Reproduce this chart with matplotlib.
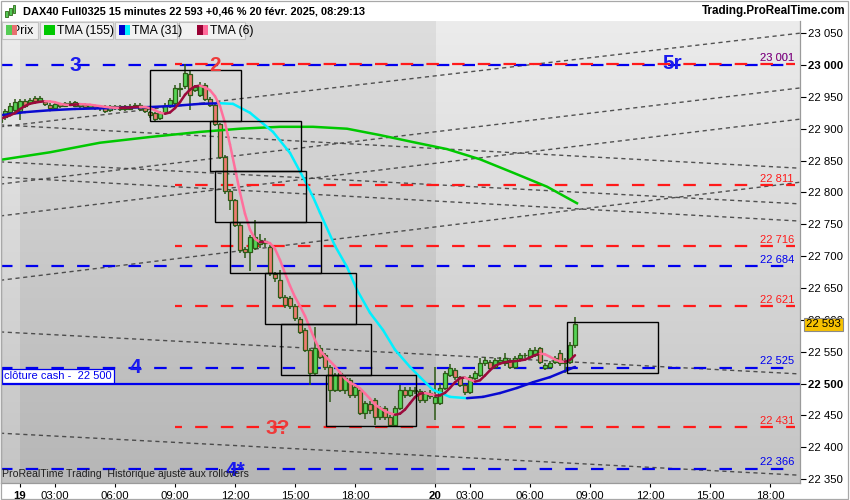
import numpy as np
import pandas as pd
import matplotlib
matplotlib.use('Agg')
import matplotlib.pyplot as plt
from matplotlib.collections import LineCollection
from matplotlib.patches import Rectangle
import matplotlib.transforms as mtransforms

plt.rcParams['font.family'] = ['Liberation Sans', 'DejaVu Sans']
plt.rcParams['lines.scale_dashes'] = False

# 15 min bars, bar 0 = 19 feb 01:15 (DAX40 Full0325)
bars = np.arange(-4, 112)
opens = [22910, 22918, 22926, 22929, 22928, 22943, 22940, 22948, 22943, 22942,
         22938, 22933, 22939, 22936, 22938, 22942, 22935, 22938, 22934, 22936,
         22932, 22936, 22930, 22936, 22931, 22935, 22931, 22934, 22937, 22932,
         22926, 22925, 22917, 22926, 22936, 22940, 22962, 22967, 22986, 22961,
         22953, 22969, 22947, 22937, 22907, 22856, 22802, 22788, 22749, 22711,
         22707, 22713, 22719, 22724, 22714, 22672, 22662, 22636, 22634, 22622,
         22601, 22584, 22553, 22516, 22556, 22545, 22526, 22490, 22516, 22490,
         22505, 22482, 22490, 22454, 22468, 22474, 22447, 22462, 22447, 22435,
         22462, 22490, 22482, 22490, 22488, 22474, 22485, 22470, 22469, 22493,
         22513, 22521, 22510, 22498, 22487, 22509, 22513, 22532, 22534, 22526,
         22533, 22532, 22537, 22526, 22540, 22544, 22542, 22545, 22555, 22524,
         22526, 22534, 22548, 22532, 22534, 22560]
highs = [22918, 22931, 22940, 22946, 22947, 22946, 22948, 22951, 22952, 22944,
         22940, 22941, 22941, 22942, 22944, 22944, 22941, 22940, 22939, 22938,
         22937, 22938, 22938, 22938, 22938, 22937, 22939, 22941, 22940, 22934,
         22928, 22927, 22928, 22940, 22948, 22968, 22972, 23001, 22990, 22968,
         22974, 22972, 22950, 22940, 22909, 22858, 22805, 22790, 22752, 22714,
         22733, 22757, 22735, 22728, 22718, 22675, 22678, 22639, 22637, 22625,
         22604, 22587, 22556, 22589, 22560, 22548, 22529, 22517, 22519, 22512,
         22508, 22497, 22493, 22472, 22472, 22478, 22465, 22465, 22450, 22465,
         22498, 22494, 22494, 22494, 22492, 22488, 22490, 22526, 22500, 22520,
         22530, 22524, 22512, 22500, 22513, 22520, 22540, 22541, 22537, 22540,
         22541, 22548, 22540, 22543, 22548, 22548, 22556, 22558, 22558, 22532,
         22535, 22543, 22552, 22540, 22565, 22605]
lows = [22905, 22914, 22922, 22926, 22914, 22932, 22937, 22941, 22940, 22936,
        22930, 22931, 22933, 22934, 22936, 22934, 22933, 22932, 22931, 22929,
        22928, 22924, 22927, 22929, 22928, 22928, 22929, 22932, 22928, 22925,
        22917, 22912, 22913, 22924, 22933, 22936, 22950, 22962, 22929, 22957,
        22950, 22944, 22934, 22904, 22852, 22798, 22772, 22745, 22705, 22697,
        22676, 22710, 22712, 22714, 22669, 22660, 22632, 22618, 22617, 22598,
        22577, 22549, 22498, 22512, 22538, 22521, 22471, 22486, 22486, 22484,
        22477, 22478, 22450, 22445, 22452, 22435, 22443, 22442, 22431, 22431,
        22458, 22478, 22479, 22484, 22470, 22470, 22476, 22443, 22466, 22490,
        22510, 22505, 22494, 22482, 22484, 22505, 22510, 22528, 22520, 22522,
        22530, 22528, 22522, 22523, 22537, 22540, 22540, 22542, 22530, 22521,
        22522, 22530, 22528, 22516, 22530, 22556]
closes = [22915, 22928, 22936, 22942, 22943, 22936, 22945, 22944, 22948, 22939,
          22933, 22939, 22935, 22940, 22941, 22936, 22939, 22934, 22937, 22932,
          22935, 22928, 22936, 22932, 22935, 22931, 22936, 22938, 22931, 22928,
          22921, 22915, 22925, 22936, 22945, 22964, 22964, 22987, 22953, 22965,
          22969, 22947, 22937, 22907, 22856, 22802, 22788, 22749, 22710, 22706,
          22730, 22730, 22725, 22720, 22673, 22666, 22636, 22623, 22622, 22603,
          22581, 22553, 22516, 22556, 22542, 22526, 22490, 22513, 22490, 22509,
          22482, 22494, 22454, 22469, 22458, 22447, 22462, 22447, 22435, 22462,
          22490, 22482, 22490, 22488, 22474, 22485, 22480, 22479, 22493, 22516,
          22524, 22510, 22498, 22487, 22510, 22516, 22532, 22537, 22524, 22537,
          22537, 22540, 22526, 22540, 22545, 22545, 22553, 22553, 22534, 22529,
          22532, 22540, 22532, 22537, 22560, 22593]

# TMA(155) and TMA(31) (bar, price)
tma155_bar = [-4, 6, 16, 26, 36, 44, 52, 58.6, 65.4, 72, 78.6, 85.4, 92, 98.6, 105.4, 111.4]
tma155_val = [22851, 22863, 22878, 22887, 22895, 22900, 22903, 22903, 22900, 22890,
              22879, 22868, 22852, 22831, 22809, 22783]
tma31_bar = [-4, 1, 6, 11, 16, 21, 26, 31, 36, 40, 42.6, 46, 48, 50.6, 54, 56.6, 58.6,
             60, 63, 65.4, 67.4, 70, 72.6, 75, 78, 80, 82.6, 86, 89.4, 92.6, 96, 99.4,
             102.6, 106, 109.4, 111]
tma31_val = [22921, 22926, 22929, 22931, 22932, 22933, 22934, 22936, 22939, 22940,
             22939, 22925, 22912, 22895, 22862, 22824, 22793, 22768, 22716, 22683,
             22647, 22611, 22584, 22553, 22526, 22510, 22490, 22479, 22477, 22479,
             22485, 22493, 22502, 22510, 22521, 22526]

red_levels = [23001, 22811, 22716, 22621, 22431]
blue_levels = [23000, 22684, 22525, 22366]
cash_close = 22500

# dotted trend lines, from bar -4 to bar 156
trend_start = [22903, 22813, 22763, 22906, 22662, 22848, 22824, 22581, 22422]
trend_end = [23050, 22964, 22915, 22838, 22816, 22782, 22755, 22515, 22356]

# boxes
box_left = [26, 38, 39, 42, 49, 52.2, 61.2, 109.4]
box_right = [44.1, 56.2, 57.2, 60.2, 67.2, 70.2, 79.2, 127.6]
box_top = [22992, 22912, 22834, 22754, 22673, 22593, 22513, 22597]
box_bottom = [22912, 22834, 22754, 22673, 22593, 22513, 22433, 22516]

ann_text = ['3', '2', '5r', '4', '3?', '4*']
ann_bar = [11, 39, 130.4, 23, 51.6, 43]
ann_price = [23000, 23000, 23003, 22525, 22429, 22364]
ann_color = ['#1a1aee', '#ee3a3a', '#1a1aee', '#1a1aee', '#ee3a3a', '#1a1aee']

tick_bars = [0, 7, 19, 31, 43, 55, 67, 83, 90, 102, 114, 126, 138, 150]
tick_labels = ['19', '03:00', '06:00', '09:00', '12:00', '15:00', '18:00',
               '20', '03:00', '06:00', '09:00', '12:00', '15:00', '18:00']
day_start = [0, 83.2]

last_price = 22593

BLUE = '#0000ee'
RED = '#ff1a1a'


def fmt(v):
    return f'{v:,}'.replace(',', ' ')


def px(x, y):
    return x / 850, 1 - y / 500


fig = plt.figure(figsize=(8.5, 5), dpi=100)
ax = fig.add_axes([1 / 850, 17 / 500, 799 / 850, 462 / 500])
x0, x1 = -3.8, 156
y0, y1 = 22343.8, 23069.1

# background: vertical gradient, 19 feb slightly darker
g = np.linspace(0, 1, 200)[:, None]
def shade(top, bot):
    v = (top + (bot - top) * g) / 255.0
    return np.repeat(v[:, :, None], 3, axis=2)

ax.imshow(shade(236, 196), extent=[x0, day_start[0], y0, y1], aspect='auto', zorder=0)
ax.imshow(shade(222, 182), extent=[day_start[0], day_start[1], y0, y1], aspect='auto', zorder=0)
ax.imshow(shade(236, 196), extent=[day_start[1], x1, y0, y1], aspect='auto', zorder=0)

# trend lines
for a, b in zip(trend_start, trend_end):
    ax.plot([-4, 156], [a, b], color='#383838', lw=1.0, ls=(0, (3.0, 2.6)), alpha=0.85, zorder=1)

# levels
ax.hlines(blue_levels, -4, 155, colors=BLUE, lw=1.6, linestyles=[(0, (9, 9.5))], zorder=2)
ax.hlines(red_levels, 31, 155, colors=RED, lw=1.6, linestyles=[(4, (9, 9.5))], zorder=2)
ax.axhline(cash_close, color=BLUE, lw=1.6, zorder=2)

for lv in red_levels[1:]:
    ax.annotate(fmt(lv), (154.8, lv), xytext=(0, 1), textcoords='offset points',
                ha='right', va='bottom', color=RED, fontsize=8, zorder=7)
for lv in blue_levels[1:]:
    ax.annotate(fmt(lv), (154.8, lv), xytext=(0, 1), textcoords='offset points',
                ha='right', va='bottom', color=BLUE, fontsize=8, zorder=7)
ax.annotate(fmt(red_levels[0]), (154.8, red_levels[0]), xytext=(0, 1), textcoords='offset points',
            ha='right', va='bottom', color=BLUE, fontsize=8, zorder=7)
ax.annotate(fmt(red_levels[0]), (154.8, red_levels[0]), xytext=(0, 1), textcoords='offset points',
            ha='right', va='bottom', color=RED, alpha=0.6, fontsize=8, zorder=7)

ax.annotate('clôture cash -  ' + fmt(cash_close), (x0, cash_close), xytext=(2, 1.8),
            textcoords='offset points', ha='left', va='bottom', color=BLUE, fontsize=8, zorder=8,
            bbox=dict(boxstyle='square,pad=0.2', fc='white', ec=BLUE, lw=0.9))

# candles
o = np.array(opens)
c = np.array(closes)
up = c >= o
lo = np.minimum(o, c)
hgt = np.maximum(np.abs(c - o), 1.2)
ax.vlines(bars, lows, highs, color='#2d5a16', lw=1.1, zorder=3)
ax.bar(bars, hgt, bottom=lo, width=0.74, color=np.where(up, '#55d455', '#ee7b70'),
       edgecolor='#2d5a16', linewidth=0.9, zorder=3.5)

# moving averages
def colored_line(xs, ys, c_up, c_down, lw):
    xs = np.asarray(xs, float)
    ys = np.asarray(ys, float)
    pts = np.column_stack([xs, ys])
    segs = np.stack([pts[:-1], pts[1:]], axis=1)
    cols = np.where(np.diff(ys) >= 0, c_up, c_down)
    ax.add_collection(LineCollection(segs, colors=cols, linewidths=lw, capstyle='round', zorder=4))

ax.plot(tma155_bar, tma155_val, color='#00c800', lw=1.8, zorder=4)
colored_line(tma31_bar, tma31_val, '#0a0ad0', '#00f0ff', 1.8)
cs = pd.Series(closes, dtype=float)
tma6 = cs.rolling(3, min_periods=1).mean().rolling(4, min_periods=1).mean()
colored_line(bars, tma6.values, '#9b0a3c', '#ff6f9c', 1.8)

# boxes
for l, r, t, b in zip(box_left, box_right, box_top, box_bottom):
    ax.add_patch(Rectangle((l, b), r - l, t - b, fill=False, ec='black', lw=1.0, zorder=5))

# hand written labels
for t, xb, yp, col in zip(ann_text, ann_bar, ann_price, ann_color):
    ax.text(xb, yp, t, color=col, fontsize=15, fontweight='bold', ha='center', va='center', zorder=6)

ax.text(x0 + 0.3, 22344.5 + 6, 'ProRealTime Trading  Historique ajusté aux rollovers',
        fontsize=7.6, color='#202020', ha='left', va='bottom', zorder=9)

ax.set_xlim(x0, x1)
ax.set_ylim(y0, y1)

# axes
yt = list(range(22350, 23051, 50))
ax.set_yticks(yt)
ax.set_yticklabels([fmt(v) for v in yt])
ax.yaxis.tick_right()
ax.tick_params(axis='y', length=4, pad=1.5, labelsize=8.2, width=0.8)
for lab, v in zip(ax.get_yticklabels(), yt):
    if v in (23000, 22500):
        lab.set_fontweight('bold')
ax.set_xticks(tick_bars)
ax.set_xticklabels(tick_labels)
ax.tick_params(axis='x', length=3, pad=2.5, labelsize=8.2, width=0.8)
for lab in ax.get_xticklabels():
    if lab.get_text() in ('19', '20'):
        lab.set_fontweight('bold')
ax.spines['top'].set_visible(False)
for s in ('left', 'right', 'bottom'):
    ax.spines[s].set_color('#9a9a9a')
    ax.spines[s].set_linewidth(0.9)

# last price tag
tr = mtransforms.blended_transform_factory(ax.transAxes, ax.transData)
ax.text(1.0075, last_price, fmt(last_price), transform=tr, fontsize=8.2, ha='left', va='center',
        zorder=10, clip_on=False,
        bbox=dict(boxstyle='square,pad=0.15', fc='#f7c200', ec='#8a8a8a', lw=0.8))

# header
fig.text(*px(23, 11), 'DAX40 Full0325 15 minutes ' + fmt(last_price) + ' +0,46 % 20 févr. 2025, 08:29:13',
         fontsize=7.9, fontweight='bold', va='center', ha='left')
fig.text(*px(846, 11), 'Trading.ProRealTime.com', fontsize=8.4, fontweight='bold', va='center', ha='right')
icon_h = [(5, 9, 15), (9, 6, 13), (13, 3, 11)]
for ix, itop, ibot in icon_h:
    fig.add_artist(Rectangle(px(ix, ibot + 2), 2.5 / 850, (ibot - itop) / 500, transform=fig.transFigure,
                             fc='#55c855', ec='#2d6a16', lw=0.6))

# legend row
legend_items = ['Prix', 'TMA (155)', 'TMA (31)', 'TMA (6)']
legend_cols = [('#55cc55', '#e87070'), ('#00c800', '#00c800'), ('#0000cc', '#00f0ff'), ('#990033', '#ff6a9a')]
btn_x = [2, 40, 115, 179]
btn_w = [36, 73, 62, 66]
for name, (c1, c2), bx, bw in zip(legend_items, legend_cols, btn_x, btn_w):
    fig.add_artist(Rectangle(px(bx, 39), bw / 850, 17 / 500, transform=fig.transFigure,
                             fc='#f1f1f1', ec='#c2c2c2', lw=0.8, zorder=20))
    sx = bx + 4 if name != 'TMA (6)' else bx + 18
    tx = sx + 13 if name != 'Prix' else sx + 6
    fig.text(*px(tx, 31), name, fontsize=8.8, va='center', ha='left', zorder=21)
    fig.add_artist(Rectangle(px(sx, 35), 5.5 / 850, 10 / 500, transform=fig.transFigure,
                             fc=c1, ec='none', zorder=22))
    fig.add_artist(Rectangle(px(sx + 5.5, 35), 5.5 / 850, 10 / 500, transform=fig.transFigure,
                             fc=c2, ec='none', zorder=22))

fig.add_artist(Rectangle((0.5 / 850, 1.5 / 500), 847.5 / 850, 498 / 500, transform=fig.transFigure,
                         fill=False, ec='#a8a8a8', lw=0.9))

fig.savefig('out.png', dpi=100)
